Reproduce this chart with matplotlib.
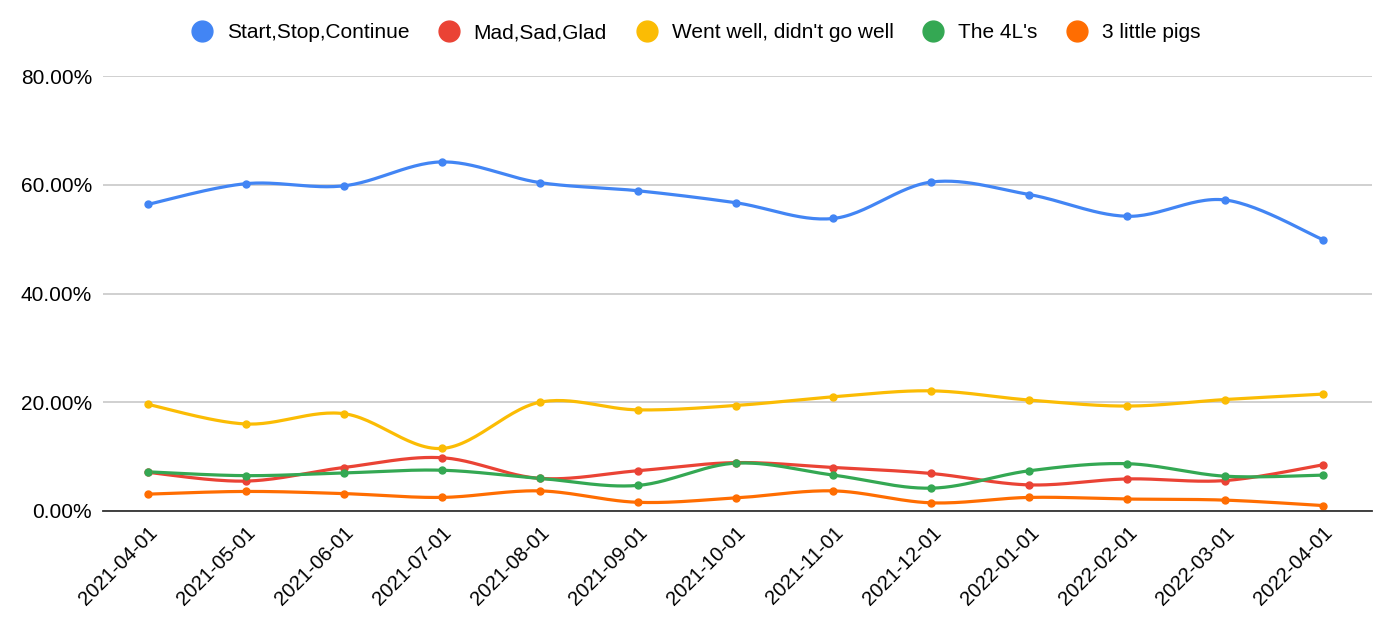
import numpy as np
import matplotlib
matplotlib.use("Agg")
import matplotlib.pyplot as plt
from matplotlib.ticker import FuncFormatter, MultipleLocator

dates = ["2021-04-01", "2021-05-01", "2021-06-01", "2021-07-01", "2021-08-01",
         "2021-09-01", "2021-10-01", "2021-11-01", "2021-12-01", "2022-01-01",
         "2022-02-01", "2022-03-01", "2022-04-01"]

start_stop_continue = [56.4, 60.2, 59.8, 64.2, 60.4, 58.9, 56.7, 53.8, 60.5, 58.2, 54.2, 57.2, 49.9]
mad_sad_glad = [7.1, 5.5, 8.0, 9.8, 6.0, 7.4, 8.9, 8.0, 6.9, 4.8, 5.9, 5.6, 8.5]
went_well = [19.6, 16.0, 17.9, 11.5, 20.0, 18.6, 19.4, 21.0, 22.1, 20.4, 19.3, 20.5, 21.5]
four_ls = [7.2, 6.5, 7.0, 7.5, 6.0, 4.7, 8.8, 6.6, 4.2, 7.4, 8.7, 6.4, 6.6]
little_pigs = [3.1, 3.6, 3.2, 2.5, 3.7, 1.6, 2.4, 3.7, 1.5, 2.5, 2.2, 2.0, 1.0]

series_names = ["Start,Stop,Continue", "Mad,Sad,Glad", "Went well, didn't go well",
                "The 4L's", "3 little pigs"]
series_values = [start_stop_continue, mad_sad_glad, went_well, four_ls, little_pigs]
colors = ["#4285F4", "#EA4335", "#FBBC04", "#34A853", "#FF6D01"]

plt.rcParams['font.family'] = ['Liberation Sans', 'DejaVu Sans']


def smooth(x, y, n=30):
    x = np.asarray(x, float)
    y = np.asarray(y, float)
    xs, ys = [], []
    m = len(x)
    for i in range(m - 1):
        p0 = (x[max(i - 1, 0)], y[max(i - 1, 0)])
        p1 = (x[i], y[i])
        p2 = (x[i + 1], y[i + 1])
        p3 = (x[min(i + 2, m - 1)], y[min(i + 2, m - 1)])
        c1 = (p1[0] + (p2[0] - p0[0]) / 6, p1[1] + (p2[1] - p0[1]) / 6)
        c2 = (p2[0] - (p3[0] - p1[0]) / 6, p2[1] - (p3[1] - p1[1]) / 6)
        t = np.linspace(0, 1, n)
        bx = (1 - t) ** 3 * p1[0] + 3 * (1 - t) ** 2 * t * c1[0] + 3 * (1 - t) * t ** 2 * c2[0] + t ** 3 * p2[0]
        by = (1 - t) ** 3 * p1[1] + 3 * (1 - t) ** 2 * t * c1[1] + 3 * (1 - t) * t ** 2 * c2[1] + t ** 3 * p2[1]
        xs.append(bx)
        ys.append(by)
    return np.concatenate(xs), np.concatenate(ys)


fig = plt.figure(figsize=(14, 6.38), dpi=100)
ax = fig.add_axes([103 / 1400, 1 - 511 / 638, 1269 / 1400, 435 / 638])

x = np.arange(len(dates))
handles = []
for name, vals, c in zip(series_names, series_values, colors):
    sx, sy = smooth(x, vals)
    ax.plot(sx, sy, color=c, lw=2.3, solid_capstyle='round', zorder=3)
    ax.plot(x, vals, 'o', color=c, ms=5, zorder=4)
    h, = ax.plot([], [], 'o', color=c, ms=15, label=name)
    handles.append(h)

ax.set_xlim(-0.46, 12.5)
ax.set_ylim(0, 80)
ax.yaxis.set_major_locator(MultipleLocator(20))
ax.yaxis.set_major_formatter(FuncFormatter(lambda v, p: f"{v:.2f}%"))
ax.grid(axis='y', color='#c4c4c4', lw=1.1)
ax.set_axisbelow(True)
for s in ['top', 'right', 'left']:
    ax.spines[s].set_visible(False)
ax.spines['bottom'].set_color('#333333')
ax.spines['bottom'].set_linewidth(1.3)
ax.spines['bottom'].set_zorder(5)

ax.set_xticks(x)
ax.set_xticklabels(dates, rotation=45, ha='right', rotation_mode='anchor', fontsize=14.5)
ax.tick_params(axis='x', length=0, pad=9)
ax.tick_params(axis='y', length=0, pad=8, labelsize=15)

fig.legend(handles=handles, loc='center', bbox_to_anchor=(0.497, 1 - 33 / 638), ncol=5,
           frameon=False, fontsize=15, handletextpad=0.7, columnspacing=1.4,
           handlelength=1.0)

fig.savefig("out.png", dpi=100, facecolor='white')
